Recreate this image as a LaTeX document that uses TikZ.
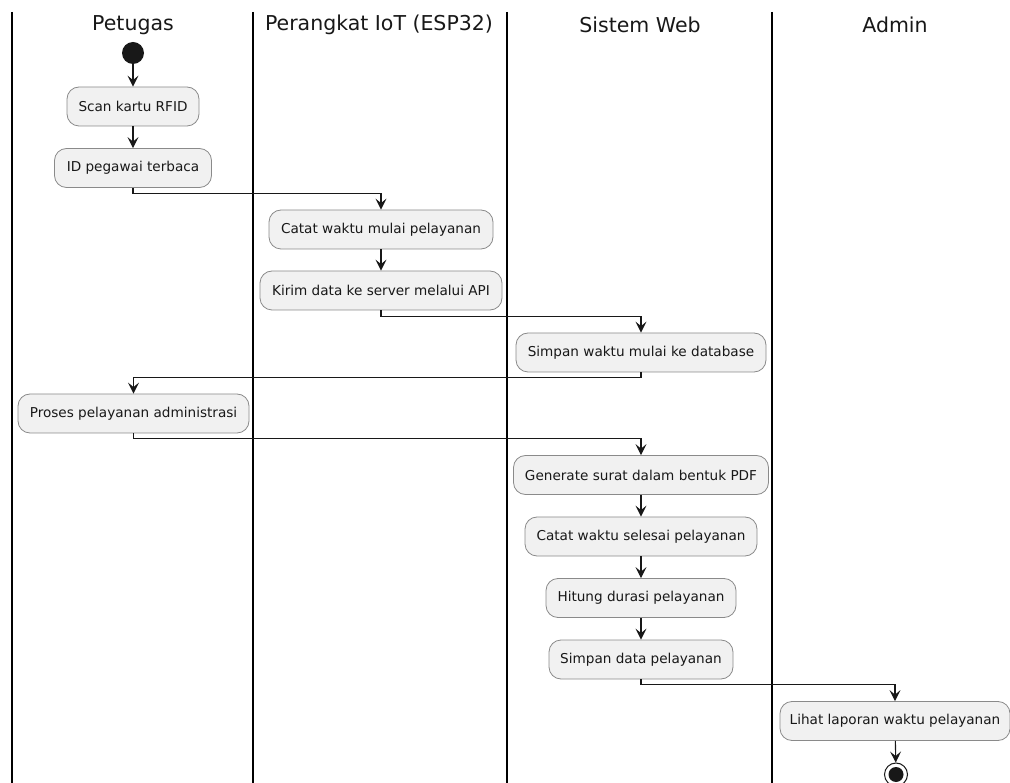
\documentclass[tikz,border=0pt]{standalone}
\usepackage{fontspec}
\setmainfont{DejaVu Sans}
\usetikzlibrary{arrows.meta}
\definecolor{actfill}{HTML}{F1F1F1}
\definecolor{actline}{HTML}{181818}
\definecolor{actborder}{HTML}{8A8A8A}
\tikzset{
  act/.style={draw=actborder, fill=actfill, rounded corners=12pt, line width=0.8pt,
    minimum height=39pt, inner sep=0pt, text=actline, font=\fontsize{13.6}{16}\selectfont},
  lane/.style={line width=1.5pt, black},
  lanetitle/.style={font=\fontsize{20.5}{24}\selectfont, text=actline},
  flow/.style={line width=1.1pt, actline, -{Stealth[length=11pt,width=11pt,inset=4.5pt]}}
}
\begin{document}
\begin{tikzpicture}[x=1pt,y=-1pt]
\useasboundingbox (0,0) rectangle (1010,783);
% swimlanes
\draw[lane] (12,12) -- (12,783);
\draw[lane] (253,12) -- (253,783);
\draw[lane] (507,12) -- (507,783);
\draw[lane] (772,12) -- (772,783);
\node[lanetitle] (t1) at (133,25) {Petugas};
\node[lanetitle] (t2) at (379,25) {Perangkat IoT (ESP32)};
\node[lanetitle] (t3) at (640,25) {Sistem Web};
\node[lanetitle] (t4) at (895,25) {Admin};
% start
\node[circle, fill=actline, minimum size=22pt, inner sep=0pt] (start) at (133,53) {};
% activities
\node[act, minimum width=132pt] (scan) at (133,106.5) {Scan kartu RFID};
\node[act, minimum width=157pt] (idp) at (133,168) {ID pegawai terbaca};
\node[act, minimum width=224pt] (catat) at (381,229.5) {Catat waktu mulai pelayanan};
\node[act, minimum width=242pt] (kirim) at (381,290.5) {Kirim data ke server melalui API};
\node[act, minimum width=250pt] (simpanw) at (641,352.5) {Simpan waktu mulai ke database};
\node[act, minimum width=231pt] (proses) at (133.5,413.5) {Proses pelayanan administrasi};
\node[act, minimum width=255pt] (gen) at (641,475) {Generate surat dalam bentuk PDF};
\node[act, minimum width=232pt] (selesai) at (641,536.5) {Catat waktu selesai pelayanan};
\node[act, minimum width=190pt] (hitung) at (641,598) {Hitung durasi pelayanan};
\node[act, minimum width=184pt] (simpand) at (641,659.5) {Simpan data pelayanan};
\node[act, minimum width=230pt] (lihat) at (895,721) {Lihat laporan waktu pelayanan};
% end
\node[circle, draw=actline, fill=white, line width=1pt, minimum size=23pt, inner sep=0pt] (stop) at (896,774.5) {};
\node[circle, fill=actline, minimum size=15pt, inner sep=0pt] (stopin) at (stop.center) {};
% flows
\draw[flow] (start) -- (scan);
\draw[flow] (scan) -- (idp);
\draw[flow] (idp.south) -- ++(0,6) -| (catat.north);
\draw[flow] (catat) -- (kirim);
\draw[flow] (kirim.south) -- ++(0,6) -| (simpanw.north);
\draw[flow] (simpanw.south) -- ++(0,5) -| (proses.north);
\draw[flow] (proses.south) -- ++(0,5) -| (gen.north);
\draw[flow] (gen) -- (selesai);
\draw[flow] (selesai) -- (hitung);
\draw[flow] (hitung) -- (simpand);
\draw[flow] (simpand.south) -- ++(0,5) -| (lihat.north);
\draw[flow] (lihat) -- (stop);
\end{tikzpicture}
\end{document}
